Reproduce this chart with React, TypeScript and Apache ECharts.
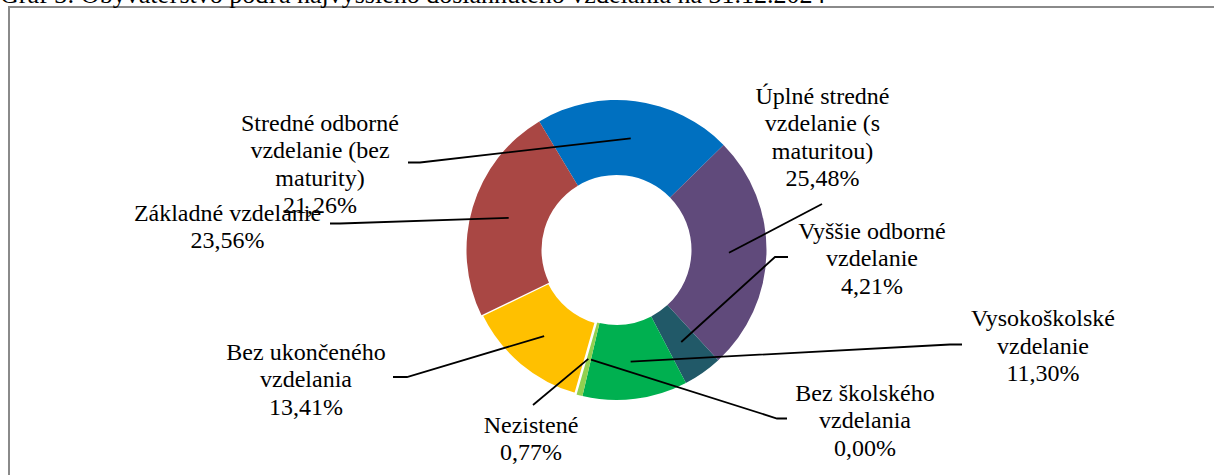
import React, { useEffect, useRef } from "react";
import * as echarts from "echarts";

const TITLE = "Graf 3: Obyvateľstvo podľa najvyššieho dosiahnutého vzdelania na 31.12.2024";

const categories = [
  "Stredné odborné vzdelanie (bez maturity)",
  "Úplné stredné vzdelanie (s maturitou)",
  "Vyššie odborné vzdelanie",
  "Vysokoškolské vzdelanie",
  "Bez školského vzdelania",
  "Nezistené",
  "Bez ukončeného vzdelania",
  "Základné vzdelanie",
];

const shares = [21.26, 25.48, 4.21, 11.3, 0.0, 0.77, 13.41, 23.56];

const labelNames = [
  "Stredné odborné\nvzdelanie (bez\nmaturity)",
  "Úplné stredné\nvzdelanie (s\nmaturitou)",
  "Vyššie odborné\nvzdelanie",
  "Vysokoškolské\nvzdelanie",
  "Bez školského\nvzdelania",
  "Nezistené",
  "Bez ukončeného\nvzdelania",
  "Základné vzdelanie",
];

const colors = ["#0070C0", "#604A7B", "#215968", "#00B050", "#7F7F7F", "#92D050", "#FFC000", "#A94744"];

// label block centres and leader-line end points (layout only)
const labelSpots: { cx: number; cy: number; elbow?: number[]; end: number[] }[] = [
  { cx: 320, cy: 164, elbow: [420, 162.5], end: [408, 162.5] },
  { cx: 822.5, cy: 137, end: [822, 204] },
  { cx: 872, cy: 258, elbow: [775, 257], end: [788, 257] },
  { cx: 1043, cy: 345.5, elbow: [950, 344.5], end: [962, 344.5] },
  { cx: 865, cy: 420, elbow: [777, 418.5], end: [787, 418.5] },
  { cx: 531, cy: 438.5, end: [533, 405] },
  { cx: 306, cy: 379, elbow: [407, 377], end: [393, 377] },
  { cx: 227.5, cy: 226.5, elbow: [340, 223.5], end: [330, 223.5] },
];

const CENTER = [616.5, 250];
const R_IN = 75;
const R_OUT = 150;
const START_ANGLE = 121;
const FONT = "Liberation Serif";

const fmt = (v: number) => v.toFixed(2).replace(".", ",") + "%";

export default function App() {
  const ref = useRef<HTMLDivElement>(null);

  useEffect(() => {
    if (!ref.current) return;
    const chart = echarts.init(ref.current, null, { renderer: "svg" });

    const total = shares.reduce((a, b) => a + b, 0);
    const startPoint = (idx: number) => {
      let cum = 0;
      for (let i = 0; i < idx; i++) cum += shares[i];
      const midDeg = -(START_ANGLE - 90) + (360 * (cum + shares[idx] / 2)) / total;
      const rad = (midDeg * Math.PI) / 180;
      const rm = (R_IN + R_OUT) / 2;
      return [CENTER[0] + rm * Math.sin(rad), CENTER[1] - rm * Math.cos(rad)];
    };

    const leaderLines = labelSpots.map((s, i) => {
      const st = startPoint(i);
      const pts = s.elbow ? [st, s.elbow, s.end] : [st, s.end];
      return {
        type: "polyline",
        silent: true,
        z: 20,
        shape: { points: pts },
        style: { stroke: "#000000", lineWidth: 1.8, fill: "none" },
      };
    });

    const dataLabels = labelSpots.map((s, i) => ({
      type: "text",
      silent: true,
      z: 25,
      x: s.cx,
      y: s.cy,
      style: {
        text: labelNames[i] + "\n" + fmt(shares[i]),
        fontSize: 24,
        fontFamily: FONT,
        lineHeight: 27.5,
        fill: "#000000",
        align: "center",
        verticalAlign: "middle",
      },
    }));

    chart.setOption({
      animation: false,
      backgroundColor: "#ffffff",
      graphic: [
        {
          type: "rect",
          silent: true,
          z: 0,
          shape: { x: 9, y: 7, width: 1400, height: 700 },
          style: { fill: "none", stroke: "#8a8a8a", lineWidth: 2 },
        },
        {
          type: "text",
          silent: true,
          x: 0,
          y: -6,
          style: {
            text: TITLE,
            fontSize: 26,
            fontFamily: FONT,
            fill: "#000000",
            verticalAlign: "middle",
          },
        },
        ...leaderLines,
        ...dataLabels,
      ],
      series: [
        {
          type: "pie",
          center: CENTER,
          radius: [R_IN, R_OUT],
          startAngle: START_ANGLE,
          clockwise: true,
          avoidLabelOverlap: false,
          emphasis: { disabled: true },
          label: { show: false },
          labelLine: { show: false },
          data: categories.map((name, i) => ({
            name,
            value: shares[i],
            itemStyle:
              i === 6
                ? { color: colors[i], borderColor: "#ffffff", borderWidth: 2.5 }
                : { color: colors[i], borderWidth: 0 },
          })),
        },
      ],
    });

    return () => chart.dispose();
  }, []);

  return (
    <div
      ref={ref}
      style={{ position: "absolute", left: 0, top: 0, width: 1214, height: 475, background: "#fff" }}
    />
  );
}
